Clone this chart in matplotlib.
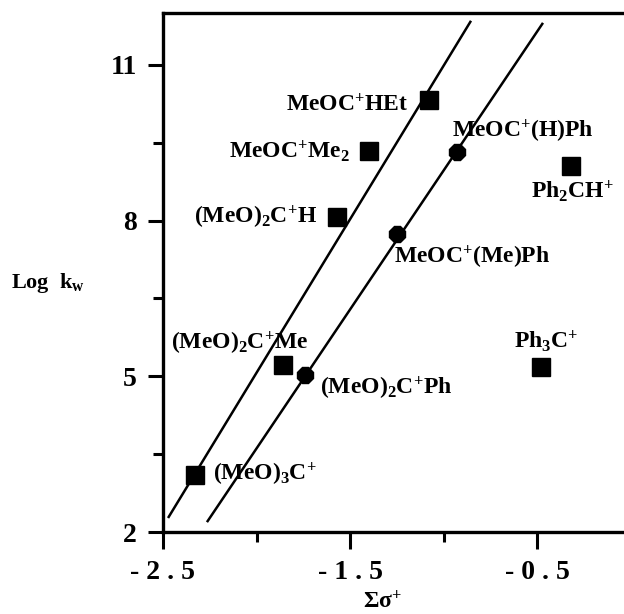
import matplotlib
matplotlib.use("Agg")
import matplotlib.pyplot as plt
import numpy as np

plt.rcParams['font.family'] = ['Liberation Serif', 'DejaVu Serif']
plt.rcParams['font.weight'] = 'bold'
plt.rcParams['mathtext.fontset'] = 'custom'
plt.rcParams['mathtext.rm'] = 'Liberation Serif:bold'
plt.rcParams['mathtext.bf'] = 'Liberation Serif:bold'
plt.rcParams['mathtext.it'] = 'Liberation Serif:bold'

# ---- data ----
sq_labels = [r'(MeO)$_{3}$C$^{+}$', r'(MeO)$_{2}$C$^{+}$Me', r'(MeO)$_{2}$C$^{+}$H',
             r'MeOC$^{+}$Me$_{2}$', r'MeOC$^{+}$HEt', r'Ph$_{2}$CH$^{+}$', r'Ph$_{3}$C$^{+}$']
sq_x = [-2.33, -1.86, -1.57, -1.40, -1.08, -0.32, -0.48]
sq_y = [3.10, 5.21, 8.07, 9.35, 10.32, 9.06, 5.17]

dm_labels = [r'(MeO)$_{2}$C$^{+}$Ph', r'MeOC$^{+}$(Me)Ph', r'MeOC$^{+}$(H)Ph']
dm_x = [-1.74, -1.25, -0.93]
dm_y = [5.02, 7.74, 9.33]

# correlation lines (endpoints along sigma+)
line1_x = [-2.473, -0.853]
line1_y = [2.27, 11.85]
line2_x = [-2.265, -0.468]
line2_y = [2.19, 11.81]

xticks = [-2.5, -1.5, -0.5]
xtick_labels = ['- 2 . 5', '- 1 . 5', '- 0 . 5']
yticks = [2, 5, 8, 11]
ytick_labels = ['2', '5', '8', '11']

# ---- figure ----
W, H = 624, 614
fig = plt.figure(figsize=(W/100, H/100), dpi=100)
left, right, bottom, top = 163, 163 + 2.5*187, 532, 13
ax = fig.add_axes([left/W, 1 - bottom/H, (right-left)/W, (bottom-top)/H])
ax.set_xlim(-2.5, 0)
ax.set_ylim(2, 12)

ax.plot(line1_x, line1_y, color='black', lw=1.8, solid_capstyle='butt')
ax.plot(line2_x, line2_y, color='black', lw=1.8, solid_capstyle='butt')
ax.plot(sq_x, sq_y, linestyle='none', marker='s', ms=13, color='black')
ax.plot(dm_x, dm_y, linestyle='none', marker='8', ms=12.5, color='black')

fs = 17
sq_off = [(18, 1, 'left'), (26, 22, 'right'), (-20, 0, 'right'), (-19, -1, 'right'),
          (-20, -5, 'right'), (2, -25, 'center'), (5, 26, 'center')]
for lab, x, y, (dx, dy, ha) in zip(sq_labels, sq_x, sq_y, sq_off):
    ax.annotate(lab, (x, y), xytext=(dx, dy), textcoords='offset pixels',
                ha=ha, va='center', fontsize=fs, fontweight='bold')
dm_off = [(15, -13, 'left'), (-3, -23, 'left'), (-5, 20, 'left')]
for lab, x, y, (dx, dy, ha) in zip(dm_labels, dm_x, dm_y, dm_off):
    ax.annotate(lab, (x, y), xytext=(dx, dy), textcoords='offset pixels',
                ha=ha, va='center', fontsize=fs, fontweight='bold')

ax.set_xticks(xticks)
ax.set_xticklabels(xtick_labels)
ax.set_yticks(yticks)
ax.set_yticklabels(ytick_labels)
ax.set_xticks([-2.0, -1.0], minor=True)
ax.set_yticks([3.5, 6.5, 9.5], minor=True)
ax.tick_params(axis='both', which='major', width=2.2, labelsize=20, pad=8)
ax.tick_params(axis='y', which='major', length=11, direction='out')
ax.tick_params(axis='x', which='major', length=12, direction='out')
ax.tick_params(axis='both', which='minor', width=2.2, length=7, direction='out')
for lbl in ax.get_xticklabels() + ax.get_yticklabels():
    lbl.set_fontweight('bold')

for s in ['left', 'bottom', 'top']:
    ax.spines[s].set_linewidth(2.4)
ax.spines['right'].set_visible(False)

fig.text(48/W, 1 - 283/H, r'Log  k$_{\mathrm{w}}$', ha='center', va='center',
         fontsize=16, fontweight='bold')
fig.text(382/W, 1 - 602/H, r'Σσ$^{+}$', ha='center', va='center',
         fontsize=17, fontweight='bold')

fig.savefig('out.png', dpi=100)
